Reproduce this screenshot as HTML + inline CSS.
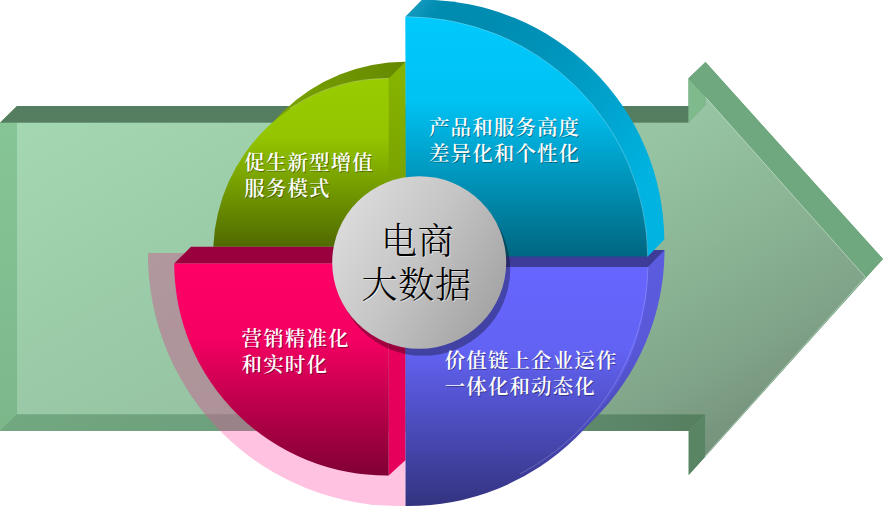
<!DOCTYPE html>
<html lang="zh-CN">
<head>
<meta charset="utf-8">
<title>电商大数据</title>
<style>
  html, body { margin: 0; padding: 0; background: #ffffff; }
  body { width: 883px; height: 508px; overflow: hidden; }
  svg { display: block; }
  .lbl { font-family: "Liberation Serif", "Noto Serif CJK SC", serif; font-weight: 600; font-size: 20.5px; letter-spacing: 1.1px; fill: #ffffff; }
  .lblsh { font-family: "Liberation Serif", "Noto Serif CJK SC", serif; font-weight: 600; font-size: 20.5px; letter-spacing: 1.1px; fill: #000000; fill-opacity: 0.4; }
  .ctr { font-family: "Liberation Serif", "Noto Serif CJK SC", serif; font-weight: 300; font-size: 36px; letter-spacing: 0.7px; fill: #000000; }
  .ctrsh { font-family: "Liberation Serif", "Noto Serif CJK SC", serif; font-weight: 300; font-size: 36px; letter-spacing: 0.7px; fill: #ffffff; fill-opacity: 0.5; }
</style>
</head>
<body>
<svg width="883" height="508" viewBox="0 0 883 508">
  <defs>
    <linearGradient id="gArrow" gradientUnits="userSpaceOnUse" x1="63.5" y1="110" x2="373" y2="646">
      <stop offset="0" stop-color="#a3d7b1"/>
      <stop offset="0.385" stop-color="#99c9a6"/>
      <stop offset="0.514" stop-color="#97c5a3"/>
      <stop offset="0.70" stop-color="#8cb696"/>
      <stop offset="0.882" stop-color="#80a489"/>
      <stop offset="1" stop-color="#76927c"/>
    </linearGradient>
    <linearGradient id="gArrowLeft" gradientUnits="userSpaceOnUse" x1="0" y1="122" x2="0" y2="431">
      <stop offset="0" stop-color="#86c596"/>
      <stop offset="1" stop-color="#7cb78a"/>
    </linearGradient>
    <linearGradient id="gArrowBottom" gradientUnits="userSpaceOnUse" x1="0" y1="0" x2="700" y2="0">
      <stop offset="0" stop-color="#72a880"/>
      <stop offset="0.6" stop-color="#69997a"/>
      <stop offset="1" stop-color="#567f60"/>
    </linearGradient>
    <linearGradient id="gGreen" gradientUnits="userSpaceOnUse" x1="0" y1="78" x2="0" y2="246">
      <stop offset="0" stop-color="#99cc00"/>
      <stop offset="0.35" stop-color="#94c500"/>
      <stop offset="1" stop-color="#506b00"/>
    </linearGradient>
    <linearGradient id="gGreenSide" gradientUnits="userSpaceOnUse" x1="0" y1="62" x2="0" y2="250">
      <stop offset="0" stop-color="#88b500"/>
      <stop offset="0.6" stop-color="#7ba400"/>
      <stop offset="1" stop-color="#587500"/>
    </linearGradient>
    <linearGradient id="gGreenTop" gradientUnits="userSpaceOnUse" x1="405" y1="60" x2="270" y2="120">
      <stop offset="0" stop-color="#658800"/>
      <stop offset="1" stop-color="#7da600"/>
    </linearGradient>
    <linearGradient id="gPink" gradientUnits="userSpaceOnUse" x1="0" y1="264" x2="0" y2="475.6">
      <stop offset="0" stop-color="#ff0066"/>
      <stop offset="0.35" stop-color="#f50062"/>
      <stop offset="1" stop-color="#800033"/>
    </linearGradient>
    <linearGradient id="gPurple" gradientUnits="userSpaceOnUse" x1="0" y1="267" x2="0" y2="506">
      <stop offset="0" stop-color="#6666ff"/>
      <stop offset="0.35" stop-color="#6262f3"/>
      <stop offset="1" stop-color="#333380"/>
    </linearGradient>
    <linearGradient id="gPurpleSide" gradientUnits="userSpaceOnUse" x1="0" y1="250" x2="0" y2="489">
      <stop offset="0" stop-color="#5c5ce0"/>
      <stop offset="0.4" stop-color="#5858d8"/>
      <stop offset="1" stop-color="#3f3f9e"/>
    </linearGradient>
    <linearGradient id="gCyan" gradientUnits="userSpaceOnUse" x1="0" y1="17" x2="0" y2="257">
      <stop offset="0" stop-color="#00c9fc"/>
      <stop offset="0.35" stop-color="#00c2f3"/>
      <stop offset="1" stop-color="#006680"/>
    </linearGradient>
    <linearGradient id="gCyanSide" gradientUnits="userSpaceOnUse" x1="405" y1="10" x2="660" y2="200">
      <stop offset="0" stop-color="#1a9dc2"/>
      <stop offset="0.08" stop-color="#008bb0"/>
      <stop offset="0.2" stop-color="#008bb0"/>
      <stop offset="0.39" stop-color="#0091b7"/>
      <stop offset="0.58" stop-color="#009cc4"/>
      <stop offset="0.75" stop-color="#00a7d2"/>
      <stop offset="0.93" stop-color="#00b3e0"/>
      <stop offset="1" stop-color="#00b3e0"/>
    </linearGradient>
    <linearGradient id="gBall" gradientUnits="userSpaceOnUse" x1="345" y1="215" x2="500" y2="310">
      <stop offset="0" stop-color="#dadada"/>
      <stop offset="0.45" stop-color="#c5c5c5"/>
      <stop offset="1" stop-color="#a3a3a3"/>
    </linearGradient>
    <filter id="fBallShadow" x="-20%" y="-20%" width="150%" height="150%">
      <feGaussianBlur stdDeviation="0.6"/>
    </filter>
  </defs>

  <!-- ================= ARROW ================= -->
  <g>
    <polygon points="17,106 688.5,106 688.5,78.3 705.5,62 883,259 688.7,475 688.7,431 0,431 0,122.8" fill="#6a9f78"/>
    <!-- top face of body -->
    <polygon points="17,106 688.5,106 688.5,122.8 0,122.8" fill="#557d5f"/>
    <!-- left face -->
    <polygon points="0,122.8 17,122.8 17,414.2 0,431" fill="url(#gArrowLeft)"/>
    <!-- bottom face of body -->
    <polygon points="0,431 17,414.2 705.2,414.2 688.7,431" fill="url(#gArrowBottom)"/>
    <!-- head lower-left face -->
    <polygon points="688.7,431 705.2,414.2 705.2,456.8 688.7,475" fill="#5a8565"/>
    <!-- head upper-left face -->
    <polygon points="688.5,78.3 705.5,96.7 705.5,105 688.5,122.8" fill="#7eba8b"/>
    <!-- head top-right face -->
    <polygon points="688.5,78.3 705.5,62 883,259 866,277 705.5,96.7" fill="#6fa77e"/>
    <!-- front face -->
    <polygon points="17,122.8 688.5,122.8 705.5,105 705.5,96.7 866,277 705.2,456.8 688.7,475 705.2,456.8 705.2,414.2 17,414.2" fill="url(#gArrow)"/>
  </g>

  <polyline points="705.5,97.2 865.2,277 704.8,456.3" fill="none" stroke="#d2ecd9" stroke-opacity="0.6" stroke-width="0.9"/>

  <!-- ================= PINK GLOW ================= -->
  <clipPath id="cArrow"><polygon points="17,106 688.5,106 688.5,122.8 0,122.8 0,431 688.7,431 688.7,475 883,259 705.5,62 688.5,78.3 688.5,106"/></clipPath>
  <path id="glow" d="M148.0,253 L405.5,253 L405.5,506.0 A251.4,251.4 0 0 1 148.0,253 Z" fill="#ff66b3" fill-opacity="0.4"/>
  <g clip-path="url(#cArrow)">
    <path d="M148.0,253 L405.5,253 L405.5,506.0 A251.4,251.4 0 0 1 148.0,253 Z" fill="#6e6e64" fill-opacity="0.22"/>
  </g>

  <!-- ================= GREEN PIECE ================= -->
  <g>
    <!-- back (top face crescent) -->
    <path d="M230,230.8 A175.6,175.6 0 0 1 405.5,61.8 L405.5,230.8 Z" fill="url(#gGreenTop)"/>
    <!-- right side band -->
    <polygon points="388.8,78.4 405.5,61.8 406,250 388.8,250" fill="url(#gGreenSide)"/>
    <!-- front -->
    <path d="M213.3,246.8 A175.6,175.6 0 0 1 388.8,78.4 L388.8,246.8 Z" fill="url(#gGreen)"/>
    <path d="M290,108.5 A175.6,175.6 0 0 1 388.8,78.4" fill="none" stroke="#e4f2b0" stroke-opacity="0.55" stroke-width="0.7"/>
  </g>

  <!-- ================= PINK PIECE ================= -->
  <g>
    <!-- top face -->
    <polygon points="174.2,263.6 191,246.8 405.6,246.8 388.7,263.6" fill="#99003d"/>
    <!-- right side band -->
    <polygon points="388.7,263.6 405.6,246.8 405.6,460 388.7,475.6" fill="#e6005c"/>
    <!-- front -->
    <path d="M174.2,263.6 L388.7,263.6 L388.7,475.6 A212.5,212.5 0 0 1 174.2,263.6 Z" fill="url(#gPink)"/>
  </g>

  <!-- ================= PURPLE PIECE ================= -->
  <g>
    <!-- back / side crescent -->
    <path d="M422,250 L664.5,250 A239.5,239.5 0 0 1 422,489 Z" fill="url(#gPurpleSide)"/>
    <!-- top face -->
    <polygon points="405.5,267 422,250 664.5,250 648,267" fill="#3d3d99"/>
    <!-- front -->
    <path d="M405.5,267 L648,267 A239.5,239.5 0 0 1 405.5,506 Z" fill="url(#gPurple)"/>
    <path d="M648,267 A239.5,239.5 0 0 1 520,474" fill="none" stroke="#c4c4ff" stroke-opacity="0.4" stroke-width="0.7"/>
  </g>

  <!-- ================= CYAN PIECE ================= -->
  <g>
    <!-- back / side crescent -->
    <path d="M422,-0.3 A242,242 0 0 1 664.3,239.6 L422,239.6 Z" fill="url(#gCyanSide)"/>
    <polygon points="405.3,16.7 422,-0.3 431,20" fill="url(#gCyanSide)"/>
    <polygon points="647.7,256.6 664.3,239.6 640,230" fill="#00b3e0"/>
    <!-- front -->
    <path d="M405.3,16.7 A241.9,241.9 0 0 1 647.7,256.6 L406,256.6 Z" fill="url(#gCyan)"/>
    <path d="M405.3,16.7 A241.9,241.9 0 0 1 647.7,256.6" fill="none" stroke="#c8f2ff" stroke-opacity="0.45" stroke-width="0.7"/>
  </g>

  <!-- ================= CENTER BALL ================= -->
  <ellipse cx="423.2" cy="269.5" rx="87" ry="86.3" fill="#000000" fill-opacity="0.33" filter="url(#fBallShadow)"/>
  <ellipse cx="419.2" cy="262.5" rx="87" ry="86.3" fill="url(#gBall)"/>

  <!-- ================= TEXT ================= -->
  <g>
    <text class="ctrsh" x="382" y="254.5">电商</text>
    <text class="ctrsh" x="362.6" y="299.3">大数据</text>
    <text class="ctr" x="381" y="253.5">电商</text>
    <text class="ctr" x="361.6" y="298.3">大数据</text>
  </g>
  <g>
    <text class="lblsh" x="245.1" y="170.8">促生新型增值</text>
    <text class="lblsh" x="245.1" y="196.8">服务模式</text>
    <text class="lbl" x="244.3" y="170.0">促生新型增值</text>
    <text class="lbl" x="244.3" y="196.0">服务模式</text>

    <text class="lblsh" x="429.8" y="135.8">产品和服务高度</text>
    <text class="lblsh" x="429.8" y="161.8">差异化和个性化</text>
    <text class="lbl" x="429.0" y="135.0">产品和服务高度</text>
    <text class="lbl" x="429.0" y="161.0">差异化和个性化</text>

    <text class="lblsh" x="242.4" y="346.8">营销精准化</text>
    <text class="lblsh" x="242.4" y="372.8">和实时化</text>
    <text class="lbl" x="241.6" y="346.0">营销精准化</text>
    <text class="lbl" x="241.6" y="372.0">和实时化</text>

    <text class="lblsh" x="445.5" y="368.8">价值链上企业运作</text>
    <text class="lblsh" x="445.5" y="394.8">一体化和动态化</text>
    <text class="lbl" x="444.7" y="368.0">价值链上企业运作</text>
    <text class="lbl" x="444.7" y="394.0">一体化和动态化</text>
  </g>
</svg>
</body>
</html>
